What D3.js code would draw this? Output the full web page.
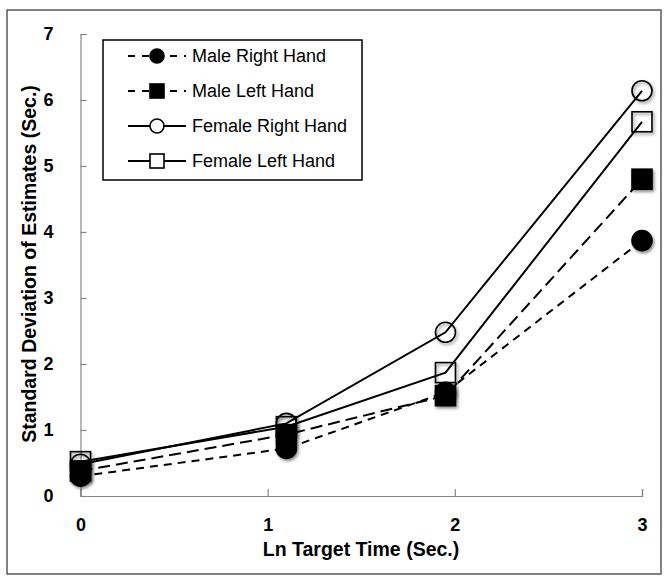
<!DOCTYPE html>
<html>
<head>
<meta charset="utf-8">
<script src="https://cdnjs.cloudflare.com/ajax/libs/d3/7.8.5/d3.min.js"></script>
<style>
  body { margin: 0; background: #fff; }
  svg { display: block; font-family: "Liberation Sans", Arial, sans-serif; }
  .axis path, .axis line { stroke: #868686; stroke-width: 1.2; }
  .axis text { font-size: 18px; font-weight: bold; fill: #000; }
</style>
</head>
<body>
<svg width="664" height="576"></svg>
<script>
// ln target time for each condition
var lnTime = [0, 1.1, 1.95, 3.0];
var xTicks = [0, 1, 2, 3];
var yTicks = [0, 1, 2, 3, 4, 5, 6, 7];

var maleRight = [0.30, 0.72, 1.57, 3.87];
var maleLeft = [0.38, 0.93, 1.52, 4.80];
var femaleRight = [0.48, 1.10, 2.48, 6.14];
var femaleLeft = [0.52, 1.05, 1.87, 5.67];

var seriesNames = ["Male Right Hand", "Male Left Hand", "Female Right Hand", "Female Left Hand"];

var chart = (function(self){
  self.init = function(){
    var svg = d3.select("svg");

    var defs = svg.append("defs");
    defs.append("filter").attr("id", "shadow")
        .attr("x", "-50%").attr("y", "-50%").attr("width", "200%").attr("height", "200%")
      .append("feDropShadow")
        .attr("dx", 1.5).attr("dy", 2).attr("stdDeviation", 1.6)
        .attr("flood-color", "#000").attr("flood-opacity", 0.45);

    // outer frame
    svg.append("rect")
        .attr("x", 7).attr("y", 10).attr("width", 654).attr("height", 564)
        .attr("fill", "none").attr("stroke", "#595959").attr("stroke-width", 1.5);

    var x = d3.scaleLinear().domain([0, 3]).range([80.5, 642]);
    var y = d3.scaleLinear().domain([0, 7]).range([496, 34]);

    svg.append("g").attr("class", "axis")
        .attr("transform", "translate(0,496)")
        .call(d3.axisBottom(x).tickValues(xTicks).tickSizeInner(-7).tickSizeOuter(-7).tickPadding(22).tickFormat(d3.format("d")));

    svg.append("g").attr("class", "axis")
        .attr("transform", "translate(80.5,0)")
        .call(d3.axisLeft(y).tickValues(yTicks).tickSizeInner(-6).tickSizeOuter(-6).tickPadding(27).tickFormat(d3.format("d")));

    svg.append("text")
        .attr("x", 361).attr("y", 556)
        .attr("text-anchor", "middle")
        .style("font-size", "19.5px").style("font-weight", "bold")
        .text("Ln Target Time (Sec.)");

    svg.append("text")
        .attr("transform", "translate(36,264) rotate(-90)")
        .attr("text-anchor", "middle")
        .style("font-size", "19.5px").style("font-weight", "bold")
        .text("Standard Deviation of Estimates (Sec.)");

    var series = [
      {name: seriesNames[0], values: maleRight, dash: "8,6", shape: "circle", fill: "#000"},
      {name: seriesNames[1], values: maleLeft, dash: "12,6", shape: "square", fill: "#000"},
      {name: seriesNames[2], values: femaleRight, dash: null, shape: "circle", fill: "none"},
      {name: seriesNames[3], values: femaleLeft, dash: null, shape: "square", fill: "none"}
    ];

    var line = d3.line()
        .x(function(d, i) { return x(lnTime[i]); })
        .y(function(d) { return y(d); });

    var plot = svg.append("g");

    series.forEach(function(s){
      plot.append("path")
          .datum(s.values)
          .attr("d", line)
          .attr("fill", "none")
          .attr("stroke", "#000")
          .attr("stroke-width", 2)
          .attr("stroke-dasharray", s.dash);
    });

    function marker(g, shape, fill, size){
      var m;
      if (shape == "circle") {
        m = g.append("circle").attr("r", size / 2);
      } else {
        m = g.append("rect").attr("x", -size / 2).attr("y", -size / 2).attr("width", size).attr("height", size);
      }
      m.attr("fill", fill).attr("stroke", "#000").attr("stroke-width", 1.6)
       .attr("filter", "url(#shadow)");
      return m;
    }

    series.forEach(function(s){
      plot.selectAll(null)
          .data(s.values)
        .enter().append("g")
          .attr("transform", function(d, i) { return "translate(" + x(lnTime[i]) + "," + y(d) + ")"; })
          .each(function(){ marker(d3.select(this), s.shape, s.fill, 20); });
    });

    // legend
    var legend = svg.append("g");
    legend.append("rect")
        .attr("x", 103).attr("y", 40).attr("width", 259).attr("height", 140)
        .attr("fill", "#fff").attr("stroke", "#000").attr("stroke-width", 1.5);

    var row = legend.selectAll(".row")
        .data(series)
      .enter().append("g")
        .attr("class", "row")
        .attr("transform", function(d, i) { return "translate(0," + (56 + i * 35) + ")"; });

    row.append("line")
        .attr("x1", 128).attr("x2", 186)
        .attr("stroke", "#000").attr("stroke-width", 2)
        .attr("stroke-dasharray", function(d) { return d.dash ? "7,7" : null; });

    row.each(function(d){
      var g = d3.select(this).append("g").attr("transform", "translate(157,0)");
      marker(g, d.shape, d.fill == "none" ? "#fff" : d.fill, 14).attr("filter", null);
    });

    row.append("text")
        .attr("x", 192).attr("dy", "0.36em")
        .style("font-size", "18px")
        .text(function(d) { return d.name; });
  };
  return self;
})({});

chart.init();
</script>
</body>
</html>
